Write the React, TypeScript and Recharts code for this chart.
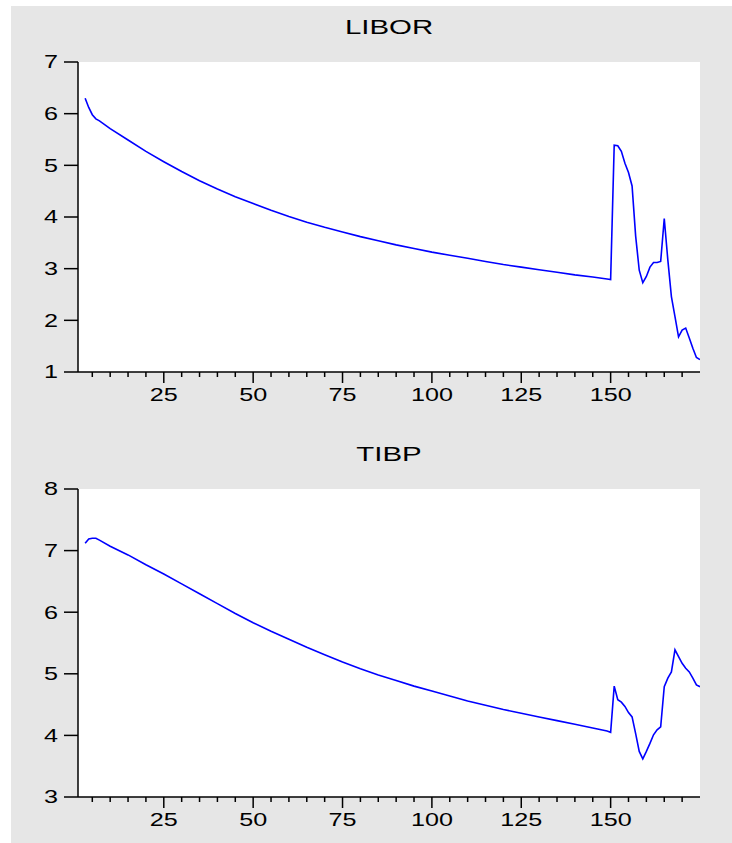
import React from "react";
import { LineChart, Line, XAxis, YAxis, CartesianGrid } from "recharts";

// observation index (sampled densely where the series move fast)
const obs = [
  3, 4, 5, 6, 7, 10, 15, 20, 25, 30, 35, 40, 45, 50, 55, 60, 65, 70, 75, 80,
  85, 90, 95, 100, 105, 110, 115, 120, 125, 130, 135, 140, 145, 149, 150, 151,
  152, 153, 154, 155, 156, 157, 158, 159, 160, 161, 162, 163, 164, 165, 166,
  167, 168, 169, 170, 171, 172, 173, 174, 175,
];

const liborValues = [
  6.3, 6.12, 5.98, 5.9, 5.86, 5.71, 5.49, 5.27, 5.07, 4.88, 4.7, 4.54, 4.39,
  4.26, 4.13, 4.01, 3.9, 3.8, 3.71, 3.62, 3.54, 3.46, 3.39, 3.32, 3.26, 3.2,
  3.14, 3.08, 3.03, 2.98, 2.93, 2.88, 2.84, 2.8, 2.79, 5.39, 5.38, 5.27, 5.04,
  4.86, 4.6, 3.63, 2.97, 2.73, 2.85, 3.03, 3.12, 3.12, 3.14, 3.97, 3.17, 2.46,
  2.07, 1.68, 1.81, 1.85, 1.66, 1.46, 1.28, 1.24,
];

const tibpValues = [
  7.12, 7.19, 7.2, 7.2, 7.17, 7.07, 6.93, 6.77, 6.62, 6.46, 6.3, 6.14, 5.98,
  5.83, 5.69, 5.56, 5.43, 5.31, 5.19, 5.08, 4.98, 4.89, 4.8, 4.72, 4.64, 4.56,
  4.49, 4.42, 4.36, 4.3, 4.24, 4.18, 4.12, 4.07, 4.05, 4.8, 4.58, 4.54, 4.47,
  4.37, 4.3, 4.03, 3.74, 3.62, 3.74, 3.87, 4.01, 4.09, 4.14, 4.79, 4.93, 5.03,
  5.39, 5.28, 5.17, 5.09, 5.03, 4.93, 4.82, 4.79,
];

const xTicks = [
  5, 10, 15, 20, 25, 30, 35, 40, 45, 50, 55, 60, 65, 70, 75, 80, 85, 90, 95,
  100, 105, 110, 115, 120, 125, 130, 135, 140, 145, 150, 155, 160, 165, 170,
];
const xLabels = [25, 50, 75, 100, 125, 150];
const liborTicks = [1, 2, 3, 4, 5, 6, 7];
const tibpTicks = [3, 4, 5, 6, 7, 8];

const FONT = "'Liberation Sans', Arial, sans-serif";
const STRETCH = 1.4;
const FRAME = { stroke: "#000", strokeWidth: 1.5 };

// eslint-disable-next-line @typescript-eslint/no-explicit-any
const BottomTick = (props: any) => {
  const { x, y, payload } = props;
  const major = xLabels.includes(payload.value);
  return (
    <g>
      <line x1={x} x2={x} y1={y} y2={y + (major ? 11 : 5)} stroke="#000" strokeWidth={1.5} />
      {major && (
        <text
          transform={`translate(${x},${y + 23}) scale(${STRETCH},1)`}
          textAnchor="middle"
          dy="0.36em"
          fontSize={18}
          fontFamily={FONT}
          fill="#000"
        >
          {payload.value}
        </text>
      )}
    </g>
  );
};

// eslint-disable-next-line @typescript-eslint/no-explicit-any
const LeftTick = (props: any) => {
  const { x, y, payload } = props;
  return (
    <g>
      <line x1={x - 14} x2={x} y1={y} y2={y} stroke="#000" strokeWidth={1.5} />
      <text
        transform={`translate(${x - 20},${y}) scale(${STRETCH},1)`}
        textAnchor="end"
        dy="0.36em"
        fontSize={18}
        fontFamily={FONT}
        fill="#000"
      >
        {payload.value}
      </text>
    </g>
  );
};

function Panel({
  title,
  values,
  yTicks,
  top,
  height,
  marginTop,
  axisHeight,
}: {
  title: string;
  values: number[];
  yTicks: number[];
  top: number;
  height: number;
  marginTop: number;
  axisHeight: number;
}) {
  const data = obs.map((o, i) => ({ obs: o, value: values[i] }));
  const yDomain = [yTicks[0], yTicks[yTicks.length - 1]];
  return (
    <div style={{ position: "absolute", left: 0, top, width: 721, height }}>
      <div
        style={{
          position: "absolute",
          left: 67,
          width: 622,
          top: marginTop - 46,
          fontFamily: FONT,
          fontSize: 21,
          lineHeight: "21px",
          textAlign: "center",
          transform: `scaleX(${STRETCH})`,
          color: "#000",
        }}
      >
        {title}
      </div>
      <LineChart
        width={721}
        height={height}
        data={data}
        margin={{ top: marginTop, right: 32, bottom: 0, left: 0 }}
      >
        <CartesianGrid fill="#fff" horizontal={false} vertical={false} />
        <XAxis
          dataKey="obs"
          type="number"
          domain={[1, 175]}
          allowDataOverflow
          ticks={xTicks}
          interval={0}
          tickSize={0}
          tickMargin={0}
          tickLine={false}
          axisLine={FRAME}
          tick={<BottomTick />}
          height={axisHeight}
        />
        <XAxis
          xAxisId="top"
          orientation="top"
          type="number"
          domain={[1, 175]}
          allowDataOverflow
          height={0}
          tick={false}
          tickLine={false}
          axisLine={FRAME}
        />
        <YAxis
          type="number"
          domain={yDomain}
          allowDataOverflow
          ticks={yTicks}
          interval={0}
          tickSize={0}
          tickMargin={0}
          tickLine={false}
          axisLine={FRAME}
          tick={<LeftTick />}
          width={67}
        />
        <YAxis
          yAxisId="right"
          orientation="right"
          type="number"
          domain={[0, 1]}
          allowDataOverflow
          width={0}
          tick={false}
          tickLine={false}
          axisLine={{ stroke: "#000", strokeWidth: 2 }}
        />
        <Line
          type="linear"
          dataKey="value"
          stroke="#0000ff"
          strokeWidth={1.6}
          dot={false}
          isAnimationActive={false}
        />
      </LineChart>
    </div>
  );
}

export default function App() {
  return (
    <div
      style={{
        position: "absolute",
        left: 11,
        top: 6,
        width: 721,
        height: 837,
        background: "#e6e6e6",
        overflow: "hidden",
      }}
    >
      <Panel
        title="LIBOR"
        values={liborValues}
        yTicks={liborTicks}
        top={0}
        height={420}
        marginTop={56}
        axisHeight={54}
      />
      <Panel
        title="TIBP"
        values={tibpValues}
        yTicks={tibpTicks}
        top={420}
        height={417}
        marginTop={63}
        axisHeight={46}
      />
    </div>
  );
}
